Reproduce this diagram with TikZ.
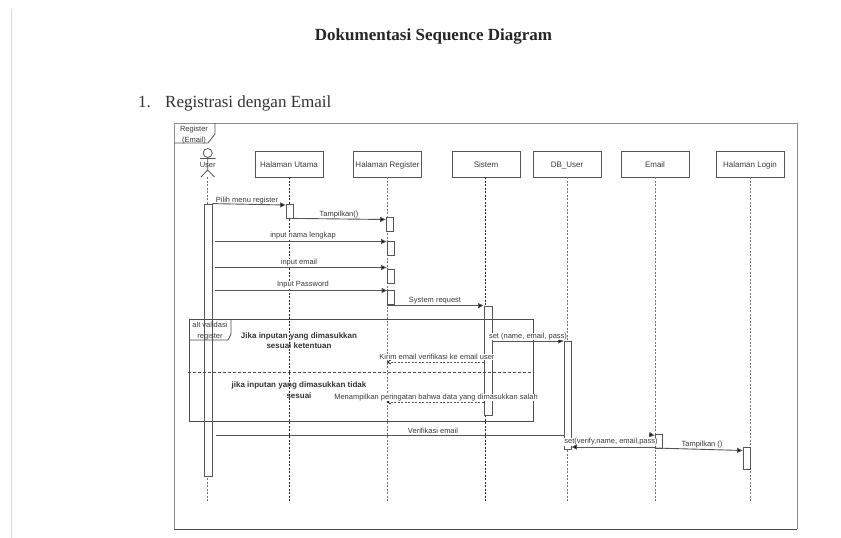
\documentclass[tikz,border=0pt]{standalone}
\usepackage{fontspec}
\setmainfont{Liberation Serif}
\newfontfamily\diag{Liberation Sans}
\usetikzlibrary{arrows.meta}
\definecolor{ln}{HTML}{555555}
\definecolor{tx}{HTML}{3A3A3A}
\tikzset{
  x=1pt,y=-1pt,
  lifebox/.style={draw=ln,line width=.8pt,fill=white,minimum width=68pt,minimum height=26pt,inner sep=0pt,text height=7pt,text depth=1pt,font=\diag\fontsize{8}{9}\selectfont,text=tx},
  lifeline/.style={draw=black!55,line width=.7pt,dash pattern=on 2pt off 1.5pt},
  darkline/.style={lifeline,draw=black!85},
  actbar/.style={draw=ln,line width=.8pt,fill=white,inner sep=0pt},
  msg/.style={draw=ln,line width=.9pt,-{Triangle[length=5.5pt,width=5pt,fill=black]}},
  retmsg/.style={draw=ln,line width=.7pt,dash pattern=on 2pt off 1.5pt,-{Straight Barb[length=3.5pt,width=4pt,black]}},
  msglabel/.style={font=\diag\fontsize{7.5}{11}\selectfont,text=tx,inner sep=.5pt,yshift=-1pt},
  condlabel/.style={font=\diag\bfseries\fontsize{8}{10.5}\selectfont,text=black!80,align=center,inner sep=0pt},
  pagetext/.style={font=\fontsize{17}{19}\selectfont,text=black!80,anchor=base west,inner sep=0pt},
}
\begin{document}
\begin{tikzpicture}
\useasboundingbox (0,0) rectangle (841,538);
\fill[white] (0,0) rectangle (841,538);
\draw[black!15,line width=.8pt] (11,9) -- (11,538);
\node[font=\bfseries\fontsize{17}{19}\selectfont,text=black!85] (title) at (433.5,36.5) {Dokumentasi Sequence Diagram};
\node[pagetext] (num) at (138,107) {1.};
\node[pagetext] (sub) at (165,107) {Registrasi dengan Email};
% outer frame
\draw[black!45,line width=.9pt] (174,529) -- (174,123) -- (797,123) -- (797,529);
\draw[black!70,line width=.9pt] (174,529) -- (797,529);
\draw[ln,line width=.8pt] (174,143) -- (208,143) -- (215,134) -- (215,123);
\node[msglabel,align=center] (ftab) at (194,134.5) {Register\\(Email)};
% lifeline heads
\node[lifebox] (hu) at (289,164) {Halaman Utama};
\node[lifebox] (hr) at (387.5,164) {Halaman Register};
\node[lifebox] (si) at (486,164) {Sistem};
\node[lifebox] (db) at (567,164) {DB\_User};
\node[lifebox] (em) at (655,164) {Email};
\node[lifebox] (lo) at (750,164) {Halaman Login};
% lifeline ends
\coordinate (ue) at (207.5,501);
\coordinate (use) at (207.5,177);
\coordinate (hue) at (hu.south |- ue);
\coordinate (hre) at (hr.south |- ue);
\coordinate (sie) at (485.5,501);
\coordinate (sis) at (485.5,177);
\coordinate (dbe) at (db.south |- ue);
\coordinate (eme) at (em.south |- ue);
\coordinate (loe) at (lo.south |- ue);
\draw[lifeline] (use) -- (ue);
\draw[darkline] (hu.south) -- (hue);
\draw[lifeline] (hr.south) -- (hre);
\draw[darkline] (sis) -- (sie);
\draw[lifeline] (db.south) -- (dbe);
\draw[lifeline] (em.south) -- (eme);
\draw[lifeline] (lo.south) -- (loe);
% actor
\draw[ln,line width=.8pt] (207.7,153) circle (4.5);
\draw[ln,line width=.8pt] (207.7,157.5) -- (207.7,170) (200,158.5) -- (215.5,158.5) (201,177) -- (207.7,170) -- (214.5,177);
\node[msglabel] (user) at (207.7,164) {User};
% activations
\node[actbar,minimum width=8pt,minimum height=272pt] (au) at (208,340) {};
\node[actbar,minimum width=7pt,minimum height=14pt] (ahu) at (289.5,211) {};
\node[actbar,minimum width=7pt,minimum height=14pt] (ar1) at (389.5,224) {};
\node[actbar,minimum width=7pt,minimum height=14pt] (ar2) at (390.5,248) {};
\node[actbar,minimum width=7pt,minimum height=14pt] (ar3) at (390.5,276) {};
\node[actbar,minimum width=7pt,minimum height=14pt] (ar4) at (391,297) {};
\node[actbar,minimum width=8pt,minimum height=109pt] (as) at (488,360.5) {};
\node[actbar,minimum width=7pt,minimum height=108pt] (ad) at (567.5,395) {};
\node[actbar,minimum width=7pt,minimum height=14pt] (ae) at (658.5,441) {};
\node[actbar,minimum width=7pt,minimum height=22pt] (al) at (746.5,458) {};
% alt frame
\draw[black!70,line width=.9pt] (189,319) rectangle (533,421);
\draw[black!70,line width=.8pt] (189,340) -- (228,340) -- (231,334) -- (231,319);
\node[msglabel,align=center] (alt) at (210,330.5) {alt validasi\\register};
\draw[black!70,line width=.7pt,dash pattern=on 3pt off 2pt] (188,372) -- (533,372);
\node[condlabel] (c1) at (299,340.5) {Jika inputan yang dimasukkan\\sesuai ketentuan};
\node[condlabel] (c2) at (299,390) {jika inputan yang dimasukkan tidak\\sesuai};
% messages
\draw[msg] (au.north east) -- (ahu.west |- 0,205);
\node[msglabel] (l1) at (247,200) {Pilih menu register};
\draw[msg] (ahu.south east) -- (ar1.west |- 0,219.5);
\node[msglabel] (l2) at (339,214) {Tampilkan()};
\coordinate (u1) at (215,241.5);
\coordinate (u2) at (215,267.5);
\coordinate (u3) at (215,290.5);
\coordinate (u4) at (216,435.5);
\draw[msg] (u1) -- (ar2.west |- u1);
\node[msglabel,fill=white] (l3) at (303,235) {input nama lengkap};
\draw[msg] (u2) -- (ar3.west |- u2);
\node[msglabel,fill=white] (l4) at (299,262) {input email};
\draw[msg] (u3) -- (ar4.west |- u3);
\node[msglabel,fill=white] (l5) at (303,284) {Input Password};
\draw[msg] (ar4.west |- as.north) -- (as.north west);
\node[msglabel] (l6) at (435,300) {System request};
\draw[msg] (as.east |- 0,341) -- (ad.west |- 0,341);
\node[msglabel,fill=white] (l7) at (528,335.5) {set (name, email, pass)};
\draw[retmsg] (as.west |- 0,362) -- (ar2.west |- 0,362);
\node[msglabel,fill=white] (l8) at (437,356) {Kirim email verifikasi ke email user};
\draw[retmsg] (as.west |- 0,402) -- (ar2.west |- 0,402);
\node[msglabel,fill=white] (l9) at (436,396.5) {Menampilkan peringatan bahwa data yang dimasukkan salah};
\draw[line width=.9pt,ln] (u4) -- (ad.west |- u4);
\node[msglabel] (l10) at (433,430) {Verifikasi email};
\coordinate (vh) at (649,434.5);
\draw[msg] (vh) -- (ae.west |- 0,435.5);
\node[msglabel,fill=white] (l11) at (611,440.5) {set(verify,name, email,pass)};
\draw[msg] (ae.west |- 0,447) -- (ad.east |- 0,447);
\draw[msg] (ae.west |- 0,448) -- (al.west |- 0,450.5);
\node[msglabel] (l12) at (702,444) {Tampilkan ()};
\end{tikzpicture}
\end{document}
